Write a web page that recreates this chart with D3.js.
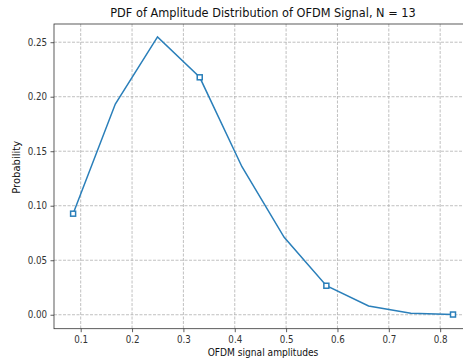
<!DOCTYPE html>
<html>
<head>
<meta charset="utf-8">
<script src="https://cdn.jsdelivr.net/npm/d3@7"></script>
<style>
  body { margin: 0; background: #fff; }
  svg { display: block; font-family: "DejaVu Sans", sans-serif; }
</style>
</head>
<body>
<script>
// values
const amplitudes = [0.0852, 0.1674, 0.2496, 0.3318, 0.4140, 0.4962, 0.5784, 0.6606, 0.7428, 0.8250];
const probability = [0.0927, 0.1933, 0.2548, 0.2178, 0.1358, 0.0710, 0.0266, 0.0080, 0.0013, 0.0002];
const xTicks = [0.1, 0.2, 0.3, 0.4, 0.5, 0.6, 0.7, 0.8];
const yTicks = [0.00, 0.05, 0.10, 0.15, 0.20, 0.25];
const markEvery = 3;

const width = 463, height = 361;
const margin = {top: 24, left: 54, right: 472, bottom: 328.7};

const x = d3.scaleLinear().domain([0.048, 0.862]).range([margin.left, margin.right]);
const y = d3.scaleLinear().domain([-0.0128, 0.2667]).range([margin.bottom, margin.top]);

// the reference glyphs are a bit narrower than plain DejaVu
function squeeze(sel, k) {
    sel.each(function () {
        const len = this.getComputedTextLength();
        d3.select(this).attr("textLength", len * k).attr("lengthAdjust", "spacingAndGlyphs");
    });
}

const svg = d3.select("body").append("svg")
    .attr("width", width)
    .attr("height", height);

// grid
svg.append("g")
    .selectAll("line")
    .data(xTicks)
    .join("line")
    .attr("x1", d => x(d)).attr("x2", d => x(d))
    .attr("y1", margin.top).attr("y2", margin.bottom)
    .attr("stroke", "#b0b0b0").attr("stroke-width", 0.8)
    .attr("stroke-dasharray", "3,1.5");

svg.append("g")
    .selectAll("line")
    .data(yTicks)
    .join("line")
    .attr("x1", margin.left).attr("x2", margin.right)
    .attr("y1", d => y(d)).attr("y2", d => y(d))
    .attr("stroke", "#b0b0b0").attr("stroke-width", 0.8)
    .attr("stroke-dasharray", "3,1.5");

// axes
const xAxis = svg.append("g")
    .attr("transform", `translate(0,${margin.bottom})`)
    .call(d3.axisBottom(x).tickValues(xTicks).tickFormat(d3.format(".1f")).tickSizeOuter(0).tickSize(3.5).tickPadding(3.5));

const yAxis = svg.append("g")
    .attr("transform", `translate(${margin.left},0)`)
    .call(d3.axisLeft(y).tickValues(yTicks).tickFormat(d3.format(".2f")).tickSizeOuter(0).tickSize(3.5).tickPadding(3.5));

[xAxis, yAxis].forEach(g => {
    g.select(".domain").remove();
    g.selectAll(".tick line").attr("stroke", "#333").attr("stroke-width", 0.8);
    g.selectAll(".tick text").attr("fill", "#333").style("font-size", "10px").style("font-family", "DejaVu Sans")
        .call(squeeze, 0.87);
});

// spines
svg.append("rect")
    .attr("x", margin.left).attr("y", margin.top)
    .attr("width", margin.right - margin.left)
    .attr("height", margin.bottom - margin.top)
    .attr("fill", "none").attr("stroke", "#333").attr("stroke-width", 0.8);

// line
const pts = amplitudes.map((a, i) => [a, probability[i]]);
svg.append("path")
    .datum(pts)
    .attr("fill", "none")
    .attr("stroke", "#2a7fba")
    .attr("stroke-width", 1.5)
    .attr("d", d3.line().x(d => x(d[0])).y(d => y(d[1])));

svg.append("g")
    .selectAll("rect")
    .data(pts.filter((d, i) => i % markEvery === 0))
    .join("rect")
    .attr("x", d => x(d[0]) - 2.5)
    .attr("y", d => y(d[1]) - 2.5)
    .attr("width", 5).attr("height", 5)
    .attr("fill", "#fff")
    .attr("stroke", "#2a7fba")
    .attr("stroke-width", 1.5);

// labels
svg.append("text")
    .attr("x", (margin.left + margin.right) / 2)
    .attr("y", 17)
    .attr("text-anchor", "middle")
    .style("font-size", "12px")
    .attr("fill", "#111")
    .text("PDF of Amplitude Distribution of OFDM Signal, N = 13")
    .call(squeeze, 0.945);

svg.append("text")
    .attr("x", (margin.left + margin.right) / 2)
    .attr("y", 356)
    .attr("text-anchor", "middle")
    .style("font-size", "10px")
    .attr("fill", "#111")
    .text("OFDM signal amplitudes")
    .call(squeeze, 0.91);

svg.append("text")
    .attr("transform", `translate(19.5,${(margin.top + margin.bottom) / 2 - 9}) rotate(-90)`)
    .attr("text-anchor", "middle")
    .style("font-size", "10px")
    .attr("fill", "#111")
    .text("Probability");
</script>
</body>
</html>
